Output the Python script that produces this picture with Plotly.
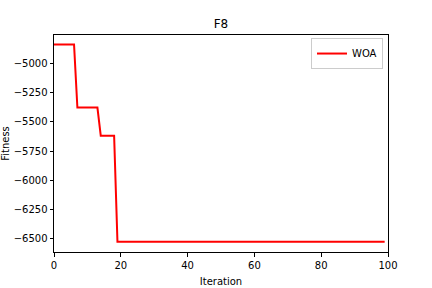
import plotly.graph_objects as go

levels = [-4840, -5379, -5619, -6523]
run_lengths = [7, 7, 5, 81]
fitness = []
for lv, n in zip(levels, run_lengths):
    fitness += [lv] * n
iterations = list(range(len(fitness)))

y_ticks = [-5000, -5250, -5500, -5750, -6000, -6250, -6500]
x_ticks = [0, 20, 40, 60, 80, 100]

fig = go.Figure()
fig.add_trace(go.Scatter(x=iterations, y=fitness, mode="lines", name="WOA",
                         line=dict(color="red", width=2)))

axis_common = dict(showline=True, linecolor="black", linewidth=1, mirror=True,
                   ticks="outside", ticklen=3.5, tickwidth=1, tickcolor="black",
                   showgrid=False, zeroline=False, automargin=False,
                   tickfont=dict(family="DejaVu Sans", size=10, color="black"))

fig.update_layout(
    width=432, height=288,
    margin=dict(l=54, r=44, t=35, b=36),
    paper_bgcolor="white", plot_bgcolor="white",
    font=dict(family="DejaVu Sans", size=10, color="black"),
    title=dict(text="F8", x=(54 + 388) / 2 / 432, xanchor="center", y=1 - 24 / 288, yanchor="middle",
               font=dict(size=12, color="black")),
    xaxis=dict(range=[0, 100], tickvals=x_ticks,
               title=dict(text="Iteration", standoff=8, font=dict(size=10)), **axis_common),
    yaxis=dict(range=[-6611, -4760], tickvals=y_ticks,
               title=dict(text="Fitness", standoff=2, font=dict(size=10)), **axis_common),
    showlegend=True,
    legend=dict(x=0.985, y=0.986, xanchor="right", yanchor="top",
                bordercolor="#cccccc", borderwidth=1, bgcolor="white",
                itemwidth=30,
                font=dict(size=10, color="black")),
)

fig.write_html("out.html")
